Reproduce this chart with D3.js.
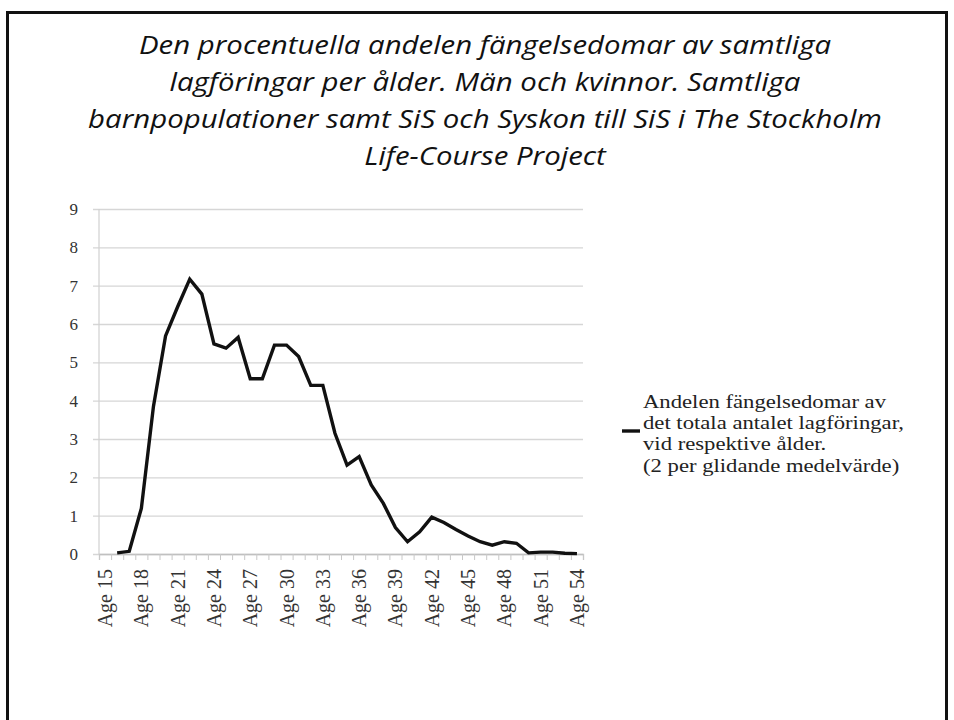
<!DOCTYPE html>
<html lang="sv">
<head>
<meta charset="UTF-8">
<script src="https://d3js.org/d3.v7.min.js"></script>
<title>Andelen fängelsedomar per ålder</title>
<style>
    body { margin: 0; background: #fff; }
    svg { display: block; }
</style>
</head>
<body>
<svg width="954" height="720"></svg>
<script>
// chart values
const titleLines = [
    "Den procentuella andelen fängelsedomar av samtliga",
    "lagföringar per ålder. Män och kvinnor. Samtliga",
    "barnpopulationer samt SiS och Syskon till SiS i The Stockholm",
    "Life-Course Project"
];
const ages = ["Age 15","Age 16","Age 17","Age 18","Age 19","Age 20","Age 21","Age 22","Age 23","Age 24",
              "Age 25","Age 26","Age 27","Age 28","Age 29","Age 30","Age 31","Age 32","Age 33","Age 34",
              "Age 35","Age 36","Age 37","Age 38","Age 39","Age 40","Age 41","Age 42","Age 43","Age 44",
              "Age 45","Age 46","Age 47","Age 48","Age 49","Age 50","Age 51","Age 52","Age 53","Age 54"];
// 2-period moving average, first age has no value
const share = [null, 0.03, 0.07, 1.19, 3.85, 5.69, 6.45, 7.17, 6.78, 5.48,
               5.37, 5.65, 4.57, 4.57, 5.45, 5.45, 5.15, 4.4, 4.4, 3.15,
               2.32, 2.54, 1.8, 1.32, 0.69, 0.32, 0.58, 0.96, 0.82, 0.64,
               0.47, 0.32, 0.23, 0.32, 0.28, 0.03, 0.05, 0.05, 0.02, 0.01];
const shownAges = ["Age 15","Age 18","Age 21","Age 24","Age 27","Age 30","Age 33",
                   "Age 36","Age 39","Age 42","Age 45","Age 48","Age 51","Age 54"];
const yTicks = [0, 1, 2, 3, 4, 5, 6, 7, 8, 9];
const legendLines = [
    "Andelen fängelsedomar av",
    "det totala antalet lagföringar,",
    "vid respektive ålder.",
    "(2 per glidande medelvärde)"
];

const svg = d3.select("svg");

// slide frame
svg.append("rect")
    .attr("x", 7.5).attr("y", 12.5)
    .attr("width", 939).attr("height", 800)
    .attr("fill", "none")
    .attr("stroke", "#111")
    .attr("stroke-width", 3);

// title
const titleG = svg.append("g")
    .style("font-family", "'Open Sans', sans-serif")
    .style("font-style", "italic")
    .style("font-size", "26px")
    .attr("fill", "#111");
const titleText = titleG.selectAll("text")
    .data(titleLines)
    .enter()
    .append("text")
    .attr("x", 485)
    .attr("y", (d, i) => 54 + i * 37)
    .attr("text-anchor", "middle")
    .text(d => d);
// squeeze so the first line is as wide as in the original
const w1 = titleText.nodes()[0].getComputedTextLength();
const k = 692 / w1;
titleText.each(function() {
    const w = this.getComputedTextLength();
    d3.select(this).attr("textLength", w * k).attr("lengthAdjust", "spacingAndGlyphs");
});

// plot
const pLeft = 99, pRight = 583, pTop = 209, pBottom = 554;

const x = d3.scaleBand().domain(ages).range([pLeft, pRight]).padding(0);
const xTick = d3.scaleLinear().domain([0, ages.length]).range([pLeft, pRight]);
const y = d3.scaleLinear().domain([0, 9]).range([pBottom, pTop]);

// gridlines + y labels
const yAxis = svg.append("g")
    .attr("transform", "translate(" + (pLeft - 6) + ",0)")
    .call(d3.axisLeft(y).tickValues(yTicks).tickSize(-(pRight - pLeft + 6)).tickPadding(15));
yAxis.select(".domain").remove();
yAxis.selectAll("line").attr("stroke", "#d6d6d6").attr("stroke-width", 1.3);
yAxis.selectAll("text")
    .style("font-family", "'Liberation Serif', 'Times New Roman', serif")
    .style("font-size", "17px")
    .attr("fill", "#333");

// vertical axis line
svg.append("line")
    .attr("x1", pLeft).attr("x2", pLeft)
    .attr("y1", pTop).attr("y2", pBottom)
    .attr("stroke", "#d0d0d0").attr("stroke-width", 1.2);

// category tick marks
const ticksG = svg.append("g")
    .attr("transform", "translate(0," + pBottom + ")")
    .call(d3.axisBottom(xTick).ticks(ages.length).tickFormat("").tickSizeOuter(0).tickSize(6));
ticksG.selectAll("line").attr("stroke", "#c8c8c8");
ticksG.select(".domain").attr("stroke", "#c0c0c0").attr("stroke-width", 1.3);

// category labels
const xAxis = svg.append("g")
    .attr("transform", "translate(0," + pBottom + ")")
    .call(d3.axisBottom(x).tickValues(shownAges).tickSize(0));
xAxis.select(".domain").remove();
xAxis.selectAll("text")
    .attr("transform", "rotate(-90)")
    .attr("text-anchor", "end")
    .attr("x", -15)
    .attr("y", 0)
    .attr("dy", "0.35em")
    .style("font-family", "'Liberation Serif', 'Times New Roman', serif")
    .style("font-size", "20px")
    .attr("fill", "#333");

// data line
const line = d3.line()
    .defined(d => d[1] !== null)
    .x(d => x(d[0]) + x.bandwidth() / 2)
    .y(d => y(d[1]));

svg.append("path")
    .datum(ages.map((a, i) => [a, share[i]]))
    .attr("d", line)
    .attr("fill", "none")
    .attr("stroke", "#111")
    .attr("stroke-width", 3.4)
    .attr("stroke-linejoin", "miter");

// legend
svg.append("line")
    .attr("x1", 622).attr("x2", 640)
    .attr("y1", 431).attr("y2", 431)
    .attr("stroke", "#111")
    .attr("stroke-width", 3.4);

const legendText = svg.append("g")
    .style("font-family", "'Liberation Serif', 'Times New Roman', serif")
    .style("font-size", "19px")
    .attr("fill", "#222")
    .selectAll("text")
    .data(legendLines)
    .enter()
    .append("text")
    .attr("x", 643)
    .attr("y", (d, i) => 408 + i * 21.2)
    .text(d => d);
// the original text runs wider than its height suggests
const lw = legendText.nodes()[0].getComputedTextLength();
const lk = 243 / lw;
legendText.each(function() {
    const w = this.getComputedTextLength();
    d3.select(this).attr("textLength", w * lk).attr("lengthAdjust", "spacingAndGlyphs");
});
</script>
</body>
</html>
